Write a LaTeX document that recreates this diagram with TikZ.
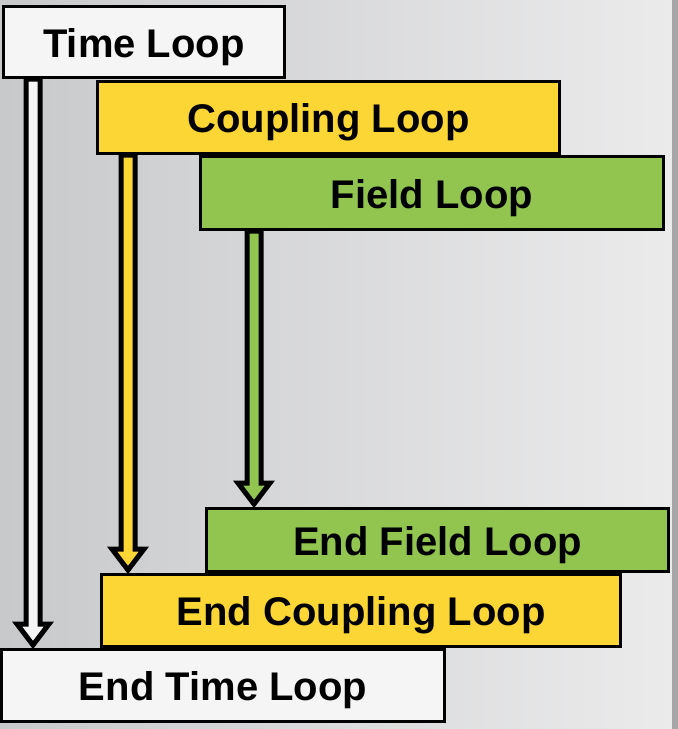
\documentclass[tikz,border=0pt]{standalone}
\usepackage{fontspec}
\setmainfont{Liberation Sans}
\usetikzlibrary{calc,backgrounds}
\definecolor{bgleft}{HTML}{C8C9CB}
\definecolor{bgright}{HTML}{EBEBEC}
\definecolor{edgegray}{HTML}{A6A6A6}
\definecolor{loopwhite}{HTML}{F5F5F5}
\definecolor{loopyellow}{HTML}{FCD634}
\definecolor{loopgreen}{HTML}{92C550}
\tikzset{
  loopbox/.style={draw=black, line width=3pt, inner sep=0pt, text=black,
    text height=30pt, text depth=0pt,
    font=\bfseries\fontsize{40}{44}\selectfont},
  fatarrow/.style={draw=black, line width=5pt, line join=miter, miter limit=10},
}
\newcommand\loopArrow[4]{%
  \draw[fatarrow, fill=#4] let \p1=(#1.south), \p2=(#2.north) in
    (\x1+#3-7pt, \y1) -- (\x1+#3-7pt, \y2+24pt) -- (\x1+#3-16pt, \y2+24pt)
    -- (\x1+#3, \y2+3pt) -- (\x1+#3+16pt, \y2+24pt) -- (\x1+#3+7pt, \y2+24pt)
    -- (\x1+#3+7pt, \y1) -- cycle;}
\begin{document}
\begin{tikzpicture}[x=1pt,y=1pt]
\useasboundingbox (0,0) rectangle (678,-729);
\begin{pgfonlayer}{background}
  \shade[left color=bgleft, right color=bgright] (0,0) rectangle (672,-729);
  \fill[edgegray] (672,0) rectangle (678,-729);
\end{pgfonlayer}
\node[loopbox, fill=loopwhite, minimum width=281pt, minimum height=71pt] (tl) at (144,-42) {Time Loop};
\node[loopbox, fill=loopyellow, minimum width=462pt, minimum height=72pt] (cl) at (328.5,-117.5) {Coupling Loop};
\node[loopbox, fill=loopgreen, minimum width=463pt, minimum height=73pt] (fl) at (432,-193) {Field Loop};
\node[loopbox, fill=loopgreen, minimum width=462pt, minimum height=63pt] (efl) at (437.5,-540) {End Field Loop};
\node[loopbox, fill=loopyellow, minimum width=519pt, minimum height=72pt] (ecl) at (361,-610.5) {End Coupling Loop};
\node[loopbox, fill=loopwhite, minimum width=443pt, minimum height=72pt] (etl) at (223,-685.5) {End Time Loop};
\begin{pgfonlayer}{background}
  \loopArrow{tl}{etl}{-111pt}{loopwhite}
  \loopArrow{cl}{ecl}{-200.5pt}{loopyellow}
  \loopArrow{fl}{efl}{-178pt}{loopgreen}
\end{pgfonlayer}
\end{tikzpicture}
\end{document}
